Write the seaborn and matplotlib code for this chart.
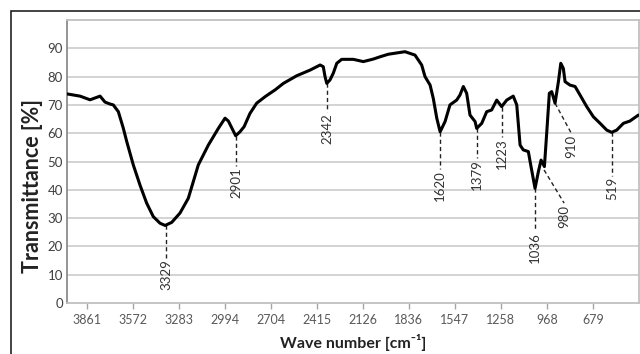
import matplotlib
matplotlib.use('Agg')
import matplotlib.pyplot as plt
import matplotlib.patches as patches
import seaborn as sns
import pandas as pd

# ==================== DONNEES ====================

wavenumber = [3989, 3905, 3842, 3779, 3748, 3716, 3696, 3664, 3633, 3611,
              3570, 3528, 3486, 3444, 3402, 3370, 3328, 3276, 3224, 3161,
              3098, 3035, 2993, 2972, 2926, 2899, 2873, 2836, 2794, 2741,
              2710, 2678, 2626, 2542, 2458, 2395, 2375, 2364, 2353, 2333,
              2312, 2290, 2259, 2186, 2123, 2060, 2018, 1966, 1861, 1798,
              1756, 1735, 1703, 1683, 1661, 1640, 1609, 1578, 1536, 1515,
              1494, 1473, 1452, 1420, 1410, 1378, 1347, 1316, 1284, 1253,
              1221, 1180, 1158, 1137, 1117, 1085, 1074, 1043, 1022, 1005,
              984, 969, 953, 938, 917, 896, 881, 865, 854, 823,
              791, 760, 718, 676, 634, 592, 561, 529, 487, 446, 393]

transmittance = [73.9, 73.1, 71.8, 73.1, 71.0, 70.3, 70.0, 67.6, 61.8, 57.0,
                 48.8, 41.7, 35.3, 30.5, 28.2, 27.4, 28.5, 31.8, 37.0, 48.8,
                 55.8, 61.7, 65.3, 64.3, 59.1, 60.5, 62.3, 67.0, 70.6, 72.9,
                 74.1, 75.3, 77.6, 80.3, 82.3, 84.1, 83.5, 80.0, 77.6, 78.8,
                 81.2, 84.7, 86.1, 86.1, 85.3, 86.2, 87.0, 87.9, 88.8, 87.6,
                 84.1, 80.0, 77.0, 72.3, 65.3, 60.5, 64.1, 70.0, 71.7, 73.5,
                 76.5, 74.1, 66.4, 64.1, 61.7, 63.5, 67.6, 68.2, 71.7, 69.4,
                 71.7, 73.1, 70.0, 55.8, 54.1, 53.5, 50.0, 40.5, 46.4, 50.5,
                 48.2, 60.5, 74.1, 74.7, 70.6, 78.2, 84.7, 82.9, 78.2, 77.0,
                 76.5, 73.5, 69.4, 65.8, 63.5, 61.1, 60.3, 61.1, 63.5, 64.3, 66.4]

x_ticks = [3861, 3572, 3283, 2994, 2704, 2415, 2126, 1836, 1547, 1258, 968, 679]
y_ticks = [0, 10, 20, 30, 40, 50, 60, 70, 80, 90]

# pics annotes : texte, pointe (x, y), fin du trait (x, y)
peak_labels = ['3329', '2901', '2342', '1620', '1379', '1223', '1036', '980', '910', '519']
peak_x = [3364, 2924, 2351, 1640, 1408, 1251, 1043, 986, 917, 559]
peak_y = [27.5, 59.0, 77.7, 60.4, 61.8, 69.3, 40.6, 47.0, 70.6, 60.4]
label_x = [3364, 2924, 2351, 1640, 1408, 1251, 1043, 860, 815, 559]
label_y = [16.0, 48.5, 67.5, 47.5, 51.2, 58.8, 25.5, 35.3, 60.0, 45.0]

df = pd.DataFrame({'Wave number': wavenumber, 'Transmittance': transmittance})

# ==================== FIGURE ====================

sns.set_theme(style='white')
plt.rcParams['font.family'] = ['Lato', 'DejaVu Sans']

fig = plt.figure(figsize=(6.4, 3.54), dpi=100)
ax = fig.add_axes([67 / 640, 1 - 303 / 354, 572 / 640, 283 / 354])

# cadre exterieur noir (coupe a droite et en bas)
fig.patches.append(patches.Rectangle((11 / 640, -0.2), 1.2, 1 - 11 / 354 + 0.2,
                                     transform=fig.transFigure, fill=False,
                                     edgecolor='#222222', linewidth=1.2, clip_on=False))

grid_color = '#d0d0d0'
for v in y_ticks[1:]:
    ax.axhline(v, color=grid_color, linewidth=1.3, zorder=0)

sns.lineplot(data=df, x='Wave number', y='Transmittance', ax=ax,
             color='black', linewidth=2.2, sort=False, zorder=3)

for lab, px, py, lx, ly in zip(peak_labels, peak_x, peak_y, label_x, label_y):
    ax.plot([px, lx], [py, ly], color='#222222', linewidth=1.0,
            linestyle=(0, (3, 2.2)), zorder=2)
    ax.text(lx, ly - 0.5, lab, rotation=90, ha='center', va='top',
            fontsize=9.5, color='#333333', zorder=4)

ax.set_xlim(3987, 389)
ax.set_ylim(0, 100)
ax.set_xticks(x_ticks)
ax.set_xticklabels([str(t) for t in x_ticks])
ax.set_yticks(y_ticks)

ax.tick_params(axis='x', direction='out', length=4, width=1, color='#a6a6a6',
               labelsize=9, labelcolor='#595959', pad=4, bottom=True)
ax.tick_params(axis='y', length=0, labelsize=9.5, labelcolor='#404040', pad=3)

for side in ['top', 'right', 'bottom']:
    ax.spines[side].set_color('#c0c0c0')
    ax.spines[side].set_linewidth(1.3)
ax.spines['left'].set_color('#8c8c8c')
ax.spines['left'].set_linewidth(1.3)

ax.set_xlabel('Wave number [cm\u207b\u00b9]', fontsize=11.5,
              fontweight='bold', color='#222222', labelpad=6)
ax.set_ylabel('Transmittance [%]', fontsize=15.5, fontweight='bold',
              color='#222222')
ax.yaxis.set_label_coords(-0.042, 0.415)

plt.savefig('out.png', dpi=100)
